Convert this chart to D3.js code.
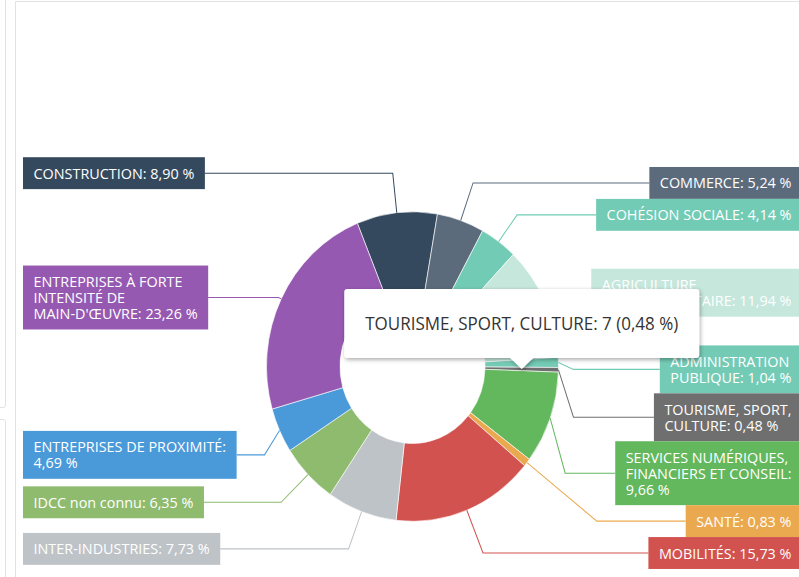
<!DOCTYPE html>
<html><head><meta charset="utf-8">
<script src="https://cdn.jsdelivr.net/npm/d3@7"></script>
<style>html,body{margin:0;padding:0;background:#fff;overflow:hidden}</style>
</head><body><svg id="c" width="799" height="577"></svg>
<script>
// ---- data ----
const categories = [
  "CONSTRUCTION", "COMMERCE", "COHÉSION SOCIALE", "AGRICULTURE\nAGROALIMENTAIRE",
  "ADMINISTRATION\nPUBLIQUE", "TOURISME, SPORT,\nCULTURE", "SERVICES NUMÉRIQUES,\nFINANCIERS ET CONSEIL",
  "SANTÉ", "MOBILITÉS", "INTER-INDUSTRIES", "IDCC non connu", "ENTREPRISES DE PROXIMITÉ",
  "ENTREPRISES À FORTE\nINTENSITÉ DE\nMAIN-D'ŒUVRE"
];
const shares = [8.90, 5.24, 4.14, 11.94, 1.04, 0.48, 9.66, 0.83, 15.73, 7.73, 6.35, 4.69, 23.26];
const colors = ["#34495e", "#5c6b7c", "#72cbb4", "#c5e7dc", "#74cbb5", "#6f6f6f", "#63b75d",
  "#eba94f", "#d1524e", "#bec3c7", "#8fbb6e", "#4a99d9", "#9659b1"];
const hoveredIndex = 5;
const hoveredCount = 7;

// ---- layout ----
const W = 799, H = 577, SY = 1.06;
const cx = 412.5, cy = 345.8, R = 146, r0 = 72.5;
const startAngle = -22.2 * Math.PI / 180;
const fs = 14.4, lh = 15.1, padY = 7.5, padX = 10.5;
const leftX = 23, rightX = 802;
const labelDist = 37.5;
const fontFamily = "'Open Sans', 'Noto Sans', sans-serif";

const locale = d3.formatLocale({decimal: ",", thousands: " ", grouping: [3], currency: ["", " €"]});
const fmt = locale.format(".2f");

const svg = d3.select("#c");
// panel borders (page decoration)
svg.append("path").attr("d", "M15.5,577 V1.5 H799").attr("fill", "none").attr("stroke", "#e2e2e2");
svg.append("path").attr("d", "M0,407.5 H3 Q5.5,407.5 5.5,405 V0").attr("fill", "none").attr("stroke", "#e2e2e2");
svg.append("path").attr("d", "M0,419.5 H3 Q5.5,419.5 5.5,422 V577").attr("fill", "none").attr("stroke", "#e2e2e2");

const defs = svg.append("defs");
const f = defs.append("filter").attr("id", "sh").attr("x", "-10%").attr("y", "-20%").attr("width", "120%").attr("height", "150%");
f.append("feDropShadow").attr("dx", 1).attr("dy", 1.5).attr("stdDeviation", 2).attr("flood-color", "#000").attr("flood-opacity", 0.35);

const root = svg.append("g").attr("transform", `scale(1,${SY})`);

const pie = d3.pie().sort(null).value(d => d).startAngle(startAngle).endAngle(startAngle + 2 * Math.PI);
const arcs = pie(shares);
const arc = d3.arc().innerRadius(r0).outerRadius(R);

const gPie = root.append("g").attr("transform", `translate(${cx},${cy})`);
gPie.selectAll("path").data(arcs).join("path")
  .attr("d", arc).attr("fill", (d, i) => colors[i])
  .attr("stroke", "#fff").attr("stroke-width", 0.6).attr("stroke-linejoin", "round");

// measuring helper
const meas = root.append("text").attr("font-family", fontFamily).attr("font-size", fs).attr("visibility", "hidden");
function tw(s) { meas.text(s); return meas.node().getComputedTextLength(); }

// labels
const items = arcs.map((d, i) => {
  const a = (d.startAngle + d.endAngle) / 2;
  let an = a % (2 * Math.PI); if (an < 0) an += 2 * Math.PI;
  const right = an < Math.PI;
  const nameLines = categories[i].split("\n");
  const last = nameLines.pop();
  const val = fmt(shares[i]) + " %";
  let lines;
  if (tw(last + ": " + val) > 200) lines = [...nameLines, last + ":", val];
  else lines = [...nameLines, last + ": " + val];
  const w = d3.max(lines, tw) + 2 * padX;
  const h = lines.length * lh + 2 * padY;
  const px = cx + R * Math.sin(a), py = cy - R * Math.cos(a);
  // the first text line aims at the natural label position
  const target = cy - (R + labelDist) * Math.cos(a) - (padY + lh / 2);
  return {i, a, right, lines, w, h, px, py, target};
});

function distribute(list, minY, maxY) {
  list.sort((p, q) => p.target - q.target);
  let prev = minY;
  list.forEach(it => { it.top = Math.max(it.target, prev); prev = it.top + it.h; });
  let lim = maxY;
  for (let k = list.length - 1; k >= 0; k--) {
    const it = list[k];
    if (it.top + it.h > lim) it.top = lim - it.h;
    lim = it.top;
  }
}
const minY = 30 / SY, maxY = 570 / SY;
distribute(items.filter(d => d.right), minY, maxY);
distribute(items.filter(d => !d.right), minY, maxY);

items.forEach(it => {
  it.bx = it.right ? rightX - it.w : leftX;
  it.ly = it.top + it.h / 2;
  const edge = it.right ? it.bx : it.bx + it.w;
  const s = Math.sin(it.a), c = Math.cos(it.a);
  const t = (-c !== 0) ? (it.ly - it.py) / (-c) : Infinity;
  let ex = it.px + t * s;
  const ok = t > 0 && t <= 100 && (it.right ? ex <= edge - 12 : ex >= edge + 12);
  if (!ok) ex = it.px + (it.right ? 15 : -15);
  it.edge = edge; it.ex = ex;
});

const gLines = root.append("g");
gLines.selectAll("path").data(items).join("path")
  .attr("d", d => `M${d.edge},${d.ly} L${d.ex},${d.ly} L${d.px},${d.py}`)
  .attr("fill", "none").attr("stroke", d => colors[d.i]).attr("stroke-width", 1);

const gLab = root.append("g");
const lab = gLab.selectAll("g").data(items).join("g");
lab.append("rect")
  .attr("x", d => d.bx).attr("y", d => d.top).attr("width", d => d.w).attr("height", d => d.h)
  .attr("fill", d => colors[d.i]);
lab.each(function (d) {
  const t = d3.select(this).append("text")
    .attr("font-family", fontFamily).attr("font-size", fs).attr("fill", "#fff");
  d.lines.forEach((ln, k) => {
    t.append("tspan").attr("x", d.bx + padX)
      .attr("y", d.top + padY + k * lh + lh / 2 + fs * 0.36).text(ln);
  });
});

// tooltip for the hovered slice
const hv = arcs[hoveredIndex];
const ha = (hv.startAngle + hv.endAngle) / 2;
const mr = (R + r0) / 2;
const ax = cx + mr * Math.sin(ha), ay = cy - mr * Math.cos(ha);
const tfs = 17;
const ttText = categories[hoveredIndex].replace(/\n/g, " ") + ": " + hoveredCount + " (" + fmt(shares[hoveredIndex]) + " %)";
meas.attr("font-size", tfs);
const ttw = tw(ttText) + 42, tth = 65;
const x0 = ax - ttw / 2, x1 = ax + ttw / 2, y1 = ay - 10.4, y0 = y1 - tth;
const rr = 3, hw = 11.5;
const gTip = root.append("g");
gTip.append("path")
  .attr("d", `M${x0 + rr},${y0} H${x1 - rr} Q${x1},${y0} ${x1},${y0 + rr} V${y1 - rr} Q${x1},${y1} ${x1 - rr},${y1} H${ax + hw} L${ax},${ay} L${ax - hw},${y1} H${x0 + rr} Q${x0},${y1} ${x0},${y1 - rr} V${y0 + rr} Q${x0},${y0} ${x0 + rr},${y0} Z`)
  .attr("fill", "#fff").attr("filter", "url(#sh)");
gTip.append("text").attr("x", x0 + 21).attr("y", (y0 + y1) / 2 + tfs * 0.36)
  .attr("font-family", fontFamily).attr("font-size", tfs).attr("fill", "#333").text(ttText);
meas.remove();
</script></body></html>
